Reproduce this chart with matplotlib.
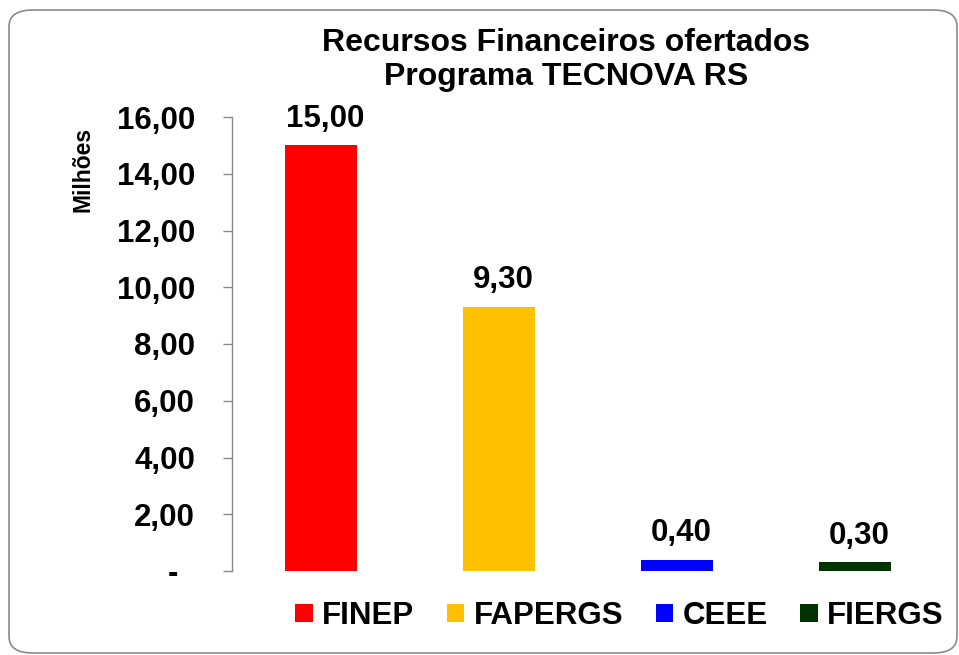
import matplotlib
matplotlib.use("Agg")
import matplotlib.pyplot as plt
from matplotlib.patches import FancyBboxPatch, Patch

plt.rcParams['font.family'] = ['Liberation Sans', 'DejaVu Sans']
plt.rcParams['font.weight'] = 'bold'

categories = ["FINEP", "FAPERGS", "CEEE", "FIERGS"]
values = [15.00, 9.30, 0.40, 0.30]
value_labels = ["15,00", "9,30", "0,40", "0,30"]
colors = ["#FF0000", "#FFC000", "#0000FF", "#003300"]
yticks = [0, 2, 4, 6, 8, 10, 12, 14, 16]
ytick_labels = ["-  ", "2,00", "4,00", "6,00", "8,00", "10,00", "12,00", "14,00", "16,00"]
title = "Recursos Financeiros ofertados\nPrograma TECNOVA RS"
ylabel = "Milhões"

W, H = 959, 655
fig = plt.figure(figsize=(W / 100, H / 100), dpi=100)

# rounded border
border = FancyBboxPatch((9 / W, 1 - 653 / H), (957 - 9) / W, (653 - 10) / H,
                        boxstyle="round,pad=0,rounding_size=0.025",
                        transform=fig.transFigure, facecolor="none",
                        edgecolor="#8a8a8a", linewidth=1.2, zorder=-1)
fig.patches.append(border)

ax = fig.add_axes([232 / W, 84 / H, (944 - 232) / W, (571 - 117) / H])
ax.patch.set_alpha(0)
x = list(range(len(categories)))
bars = ax.bar(x, values, width=0.405, color=colors, zorder=2)
ax.set_xlim(-0.5, len(categories) - 0.5)
ax.set_ylim(0, 16)

for xi, v, lab in zip(x, values, value_labels):
    ax.annotate(lab, (xi, v), xytext=(3, 13.5), textcoords="offset points",
                ha="center", va="baseline", fontsize=22.5, fontweight="bold")

ax.set_yticks(yticks)
ax.set_yticklabels(ytick_labels, fontsize=22.5, fontweight="bold")
ax.tick_params(axis="y", length=6.5, width=1.0, color="#8a8a8a", pad=20)
ax.tick_params(axis="x", bottom=False, labelbottom=False)
for s in ["top", "right", "bottom"]:
    ax.spines[s].set_visible(False)
ax.spines["left"].set_color("#8a8a8a")
ax.spines["left"].set_linewidth(1.0)

fig.text(566 / W, 1 - 60 / H, title, ha="center", va="center",
         fontsize=23, fontweight="bold", linespacing=1.17)
fig.text(83 / W, 1 - 169 / H, ylabel, rotation=90, ha="center", va="center",
         fontsize=16.5, fontweight="bold")

handles = [Patch(facecolor=c, edgecolor="none", label=l) for c, l in zip(colors, categories)]
fig.legend(handles=handles, loc="center", bbox_to_anchor=(619.5 / W, 1 - 616 / H),
           ncol=4, frameon=False, handlelength=0.55, handleheight=0.52,
           handletextpad=0.3, columnspacing=1.05, prop={"weight": "bold", "size": 22.5})

fig.savefig("out.png", dpi=100)
